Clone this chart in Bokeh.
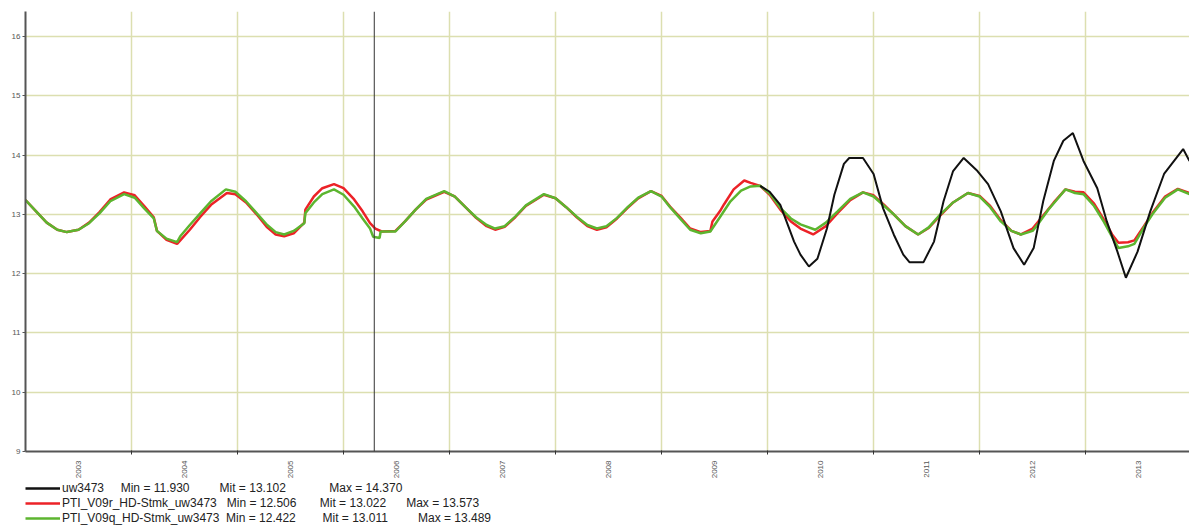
import math
from bokeh.plotting import figure
from bokeh.layouts import column
from bokeh.models import Range1d, FixedTicker, Span, Legend, LegendItem
from bokeh.embed import file_html
from bokeh.resources import INLINE

# ---------------- data (decimal years) ----------------
GREEN_YEAR = [2003.00, 2003.10, 2003.20, 2003.30, 2003.39, 2003.50, 2003.60, 2003.70, 2003.80, 2003.93,
              2004.03, 2004.12, 2004.21, 2004.24, 2004.33, 2004.43, 2004.46, 2004.55, 2004.65, 2004.75,
              2004.89, 2004.98, 2005.08, 2005.18, 2005.28, 2005.36, 2005.44, 2005.53, 2005.63, 2005.64,
              2005.72, 2005.80, 2005.91, 2006.00, 2006.10, 2006.18, 2006.25, 2006.28, 2006.34, 2006.35,
              2006.49, 2006.58, 2006.68, 2006.78, 2006.95, 2007.05, 2007.15, 2007.25, 2007.35, 2007.43,
              2007.52, 2007.62, 2007.72, 2007.89, 2008.00, 2008.10, 2008.20, 2008.30, 2008.39, 2008.48,
              2008.58, 2008.68, 2008.78, 2008.90, 2009.00, 2009.08, 2009.18, 2009.27, 2009.37, 2009.46,
              2009.55, 2009.65, 2009.75, 2009.84, 2009.93, 2010.02, 2010.12, 2010.22, 2010.31, 2010.45,
              2010.55, 2010.66, 2010.78, 2010.90, 2011.00, 2011.10, 2011.19, 2011.30, 2011.42, 2011.52,
              2011.63, 2011.75, 2011.89, 2012.00, 2012.10, 2012.20, 2012.30, 2012.39, 2012.50, 2012.55,
              2012.65, 2012.73, 2012.81, 2012.90, 2012.98, 2013.08, 2013.17, 2013.25, 2013.31, 2013.40,
              2013.46, 2013.55, 2013.63, 2013.75, 2013.87, 2013.98]
GREEN_VAL = [13.24, 13.05, 12.86, 12.74, 12.70, 12.74, 12.85, 13.02, 13.22, 13.34,
             13.28, 13.10, 12.93, 12.72, 12.59, 12.53, 12.63, 12.82, 13.02, 13.22,
             13.42, 13.38, 13.22, 13.02, 12.82, 12.70, 12.66, 12.72, 12.85, 13.02,
             13.20, 13.34, 13.42, 13.33, 13.13, 12.93, 12.76, 12.62, 12.60, 12.71,
             12.71, 12.88, 13.08, 13.26, 13.39, 13.30, 13.12, 12.95, 12.82, 12.76,
             12.80, 12.96, 13.15, 13.34, 13.27, 13.12, 12.96, 12.82, 12.76, 12.80,
             12.94, 13.12, 13.28, 13.39, 13.30, 13.12, 12.92, 12.74, 12.68, 12.71,
             12.95, 13.22, 13.40, 13.47, 13.48, 13.35, 13.11, 12.93, 12.83, 12.74,
             12.86, 13.05, 13.26, 13.37, 13.30, 13.14, 13.00, 12.80, 12.66, 12.78,
             13.00, 13.20, 13.36, 13.30, 13.12, 12.88, 12.72, 12.66, 12.72, 12.83,
             13.08, 13.25, 13.42, 13.36, 13.34, 13.14, 12.88, 12.62, 12.43, 12.46,
             12.50, 12.78, 13.00, 13.28, 13.42, 13.34]

RED_YEAR = [2003.00, 2003.10, 2003.20, 2003.30, 2003.39, 2003.50, 2003.60, 2003.70, 2003.80, 2003.93,
            2004.03, 2004.12, 2004.21, 2004.24, 2004.33, 2004.43, 2004.46, 2004.55, 2004.65, 2004.75,
            2004.90, 2004.98, 2005.08, 2005.18, 2005.28, 2005.36, 2005.44, 2005.53, 2005.63, 2005.64,
            2005.72, 2005.80, 2005.91, 2006.00, 2006.10, 2006.18, 2006.25, 2006.30, 2006.36, 2006.49,
            2006.58, 2006.68, 2006.78, 2006.95, 2007.05, 2007.15, 2007.25, 2007.35, 2007.43, 2007.52,
            2007.62, 2007.72, 2007.89, 2008.00, 2008.10, 2008.20, 2008.30, 2008.39, 2008.48, 2008.58,
            2008.68, 2008.78, 2008.90, 2009.00, 2009.08, 2009.18, 2009.27, 2009.37, 2009.46, 2009.48,
            2009.55, 2009.59, 2009.68, 2009.78, 2009.84, 2009.93, 2010.02, 2010.12, 2010.22, 2010.31,
            2010.43, 2010.55, 2010.66, 2010.78, 2010.90, 2011.00, 2011.10, 2011.19, 2011.30, 2011.42,
            2011.52, 2011.63, 2011.75, 2011.89, 2012.00, 2012.10, 2012.20, 2012.30, 2012.39, 2012.50,
            2012.60, 2012.70, 2012.81, 2012.90, 2012.98, 2013.08, 2013.17, 2013.25, 2013.31, 2013.40,
            2013.46, 2013.55, 2013.63, 2013.75, 2013.87, 2013.98]
RED_VAL = [13.24, 13.05, 12.86, 12.74, 12.70, 12.74, 12.86, 13.04, 13.25, 13.37,
           13.32, 13.14, 12.95, 12.72, 12.57, 12.50, 12.56, 12.74, 12.96, 13.16,
           13.36, 13.34, 13.20, 13.00, 12.78, 12.66, 12.63, 12.68, 12.86, 13.08,
           13.30, 13.44, 13.51, 13.44, 13.25, 13.05, 12.85, 12.76, 12.71, 12.72,
           12.88, 13.08, 13.25, 13.38, 13.30, 13.12, 12.94, 12.80, 12.74, 12.79,
           12.95, 13.14, 13.33, 13.27, 13.12, 12.95, 12.80, 12.74, 12.78, 12.93,
           13.11, 13.27, 13.39, 13.31, 13.13, 12.94, 12.76, 12.70, 12.72, 12.88,
           13.05, 13.17, 13.42, 13.57, 13.53, 13.48, 13.33, 13.08, 12.88, 12.76,
           12.66, 12.80, 13.02, 13.24, 13.37, 13.32, 13.16, 13.00, 12.80, 12.66,
           12.77, 12.98, 13.20, 13.36, 13.31, 13.14, 12.90, 12.72, 12.66, 12.76,
           12.98, 13.20, 13.42, 13.38, 13.37, 13.18, 12.92, 12.66, 12.52, 12.53,
           12.56, 12.80, 13.02, 13.30, 13.43, 13.36]

BLACK_YEAR = [2009.93, 2010.02, 2010.12, 2010.25, 2010.31, 2010.39, 2010.47, 2010.56, 2010.63, 2010.72,
              2010.77, 2010.90, 2011.00, 2011.09, 2011.19, 2011.28, 2011.34, 2011.47, 2011.57, 2011.66,
              2011.75, 2011.85, 2011.98, 2012.08, 2012.20, 2012.32, 2012.42, 2012.51, 2012.60, 2012.70,
              2012.79, 2012.88, 2012.98, 2013.11, 2013.20, 2013.30, 2013.38, 2013.49, 2013.61, 2013.74,
              2013.92, 2013.98]
BLACK_VAL = [13.48, 13.38, 13.16, 12.54, 12.32, 12.12, 12.25, 12.76, 13.33, 13.85,
             13.95, 13.95, 13.68, 13.10, 12.66, 12.32, 12.19, 12.19, 12.54, 13.22,
             13.73, 13.95, 13.73, 13.51, 13.05, 12.43, 12.15, 12.43, 13.22, 13.90,
             14.24, 14.37, 13.90, 13.44, 12.88, 12.37, 11.93, 12.37, 13.05, 13.68,
             14.10, 13.90]

SERIES_NAMES = ["uw3473", "PTI_V09r_HD-Stmk_uw3473", "PTI_V09q_HD-Stmk_uw3473"]
SERIES_MIN = ["11.930", "12.506", "12.422"]
SERIES_MIT = ["13.102", "13.022", "13.011"]
SERIES_MAX = ["14.370", "13.573", "13.489"]

YEARS = list(range(2003, 2014))
Y_TICKS = [9, 10, 11, 12, 13, 14, 15, 16]
MARKER_YEAR = 2006.29

# ---------------- styling ----------------
FONT = "Liberation Sans"
GRID = "#dcdfb0"
NB = "\u00a0"
COL_BLACK, COL_RED, COL_GREEN = "#111111", "#ec2227", "#5cb52f"

p = figure(width=1189, height=481, output_backend="svg", toolbar_location=None,
           x_range=Range1d(2003.0, 2013.98), y_range=Range1d(9, 16.42),
           min_border_left=25, min_border_right=0, min_border_top=11, min_border_bottom=28)
p.outline_line_color = None

xa = p.xaxis[0]
xa.ticker = FixedTicker(ticks=[y + 0.5 for y in YEARS], minor_ticks=YEARS[1:])
xa.major_label_overrides = {y + 0.5: str(y) for y in YEARS}
xa.major_label_orientation = math.pi / 2
xa.major_label_text_font = FONT
xa.major_label_text_font_size = "8px"
xa.major_label_text_color = "#555555"
xa.major_label_standoff = 3
xa.major_tick_line_color = None
xa.minor_tick_line_color = "#333333"
xa.minor_tick_out = 3
xa.minor_tick_in = 1
xa.axis_line_color = "#555555"
xa.axis_line_width = 2

ya = p.yaxis[0]
ya.ticker = FixedTicker(ticks=Y_TICKS)
ya.major_label_text_font = FONT
ya.major_label_text_font_size = "8px"
ya.major_label_text_color = "#555555"
ya.major_label_standoff = 2
ya.major_tick_out = 3
ya.major_tick_in = 0
ya.major_tick_line_color = "#555555"
ya.minor_tick_line_color = None
ya.axis_line_color = "#555555"
ya.axis_line_width = 2

p.xgrid.ticker = FixedTicker(ticks=YEARS[1:])
p.ygrid.ticker = FixedTicker(ticks=Y_TICKS[1:])
p.xgrid.grid_line_color = GRID
p.ygrid.grid_line_color = GRID
p.xgrid.grid_line_width = 1.5
p.ygrid.grid_line_width = 1.5

p.add_layout(Span(location=MARKER_YEAR, dimension="height", line_color="#333333", line_width=1))

p.line(RED_YEAR, RED_VAL, line_color=COL_RED, line_width=2.5)
p.line(GREEN_YEAR, GREEN_VAL, line_color=COL_GREEN, line_width=2.5)
p.line(BLACK_YEAR, BLACK_VAL, line_color=COL_BLACK, line_width=2)

# ---------------- legend strip below the chart ----------------
lg = figure(width=1189, height=46, output_backend="svg", toolbar_location=None,
            x_axis_type=None, y_axis_type=None, x_range=Range1d(0, 1), y_range=Range1d(0, 1),
            min_border=0)
lg.outline_line_color = None
lg.grid.visible = False
# key renderers: their points lie outside the strip's range, only the legend swatches show
OFF = [5, 6]
k_black = lg.line(OFF, OFF, line_color=COL_BLACK, line_width=2.5)
k_red = lg.line(OFF, OFF, line_color=COL_RED, line_width=2.5)
k_green = lg.line(OFF, OFF, line_color=COL_GREEN, line_width=2.5)

gaps_min = [5, 3, 2]
gaps_mit = [9, 7, 8]
gaps_max = [13, 6, 9]
labels = []
for i in range(3):
    labels.append(SERIES_NAMES[i] + NB * gaps_min[i] + "Min = " + SERIES_MIN[i]
                  + NB * gaps_mit[i] + "Mit = " + SERIES_MIT[i]
                  + NB * gaps_max[i] + "Max = " + SERIES_MAX[i])

legend = Legend(items=[LegendItem(label=labels[0], renderers=[k_black]),
                       LegendItem(label=labels[1], renderers=[k_red]),
                       LegendItem(label=labels[2], renderers=[k_green])],
                location=(0, 2), orientation="vertical",
                margin=0, padding=0, spacing=1,
                label_height=14, glyph_height=14, glyph_width=35, label_standoff=2,
                label_text_font=FONT, label_text_font_size="12px", label_text_color="#222222",
                border_line_color=None, background_fill_alpha=0)
lg.add_layout(legend, "center")

layout = column(p, lg, spacing=0)
open("out.html", "w").write(file_html(layout, INLINE))
